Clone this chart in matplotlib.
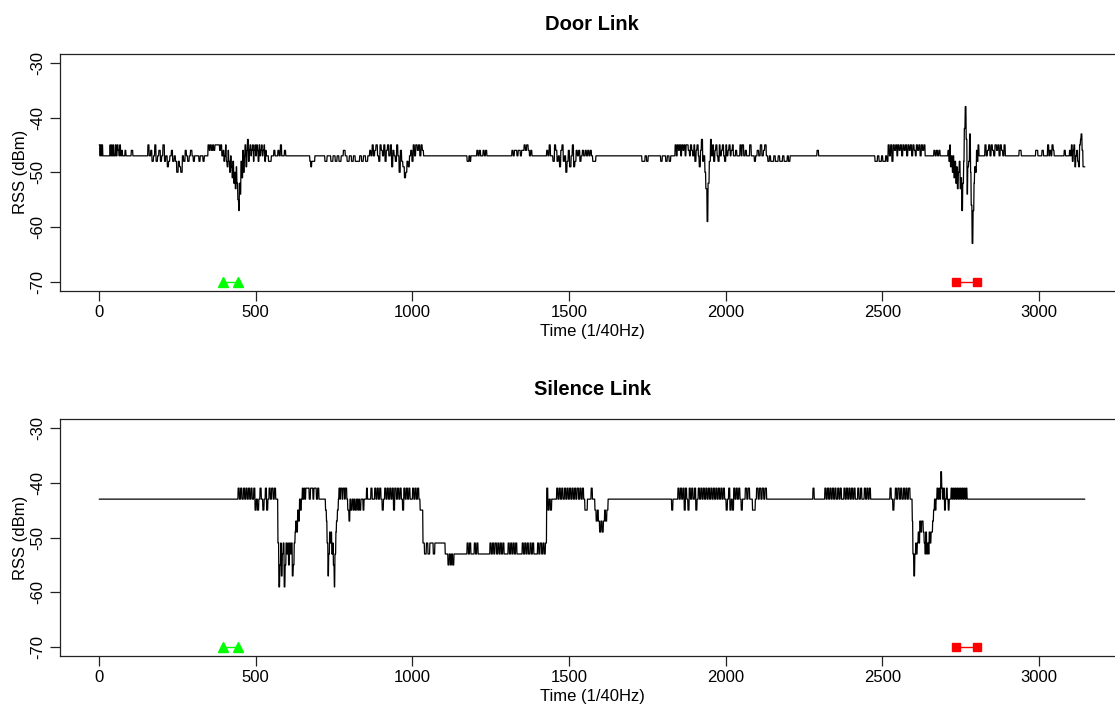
import numpy as np
import matplotlib.pyplot as plt

plt.rcParams["font.family"] = ["Liberation Sans", "DejaVu Sans"]
plt.rcParams["axes.unicode_minus"] = False

# RSS trace of each link, one sample per 1/40 s
n_samples = 3146

# quiet level of each link and the bursts around it: (first, last, levels held in turn)
door_base = -47
door_bursts = [
    (1, 14, [-45, -47, -45, -47, -45, -47]),
    (35, 47, [-45, -47, -45, -47, -45]),
    (52, 78, [-45, -47, -45, -46, -47, -45, -47, -46, -47]),
    (83, 90, [-46, -47]),
    (103, 108, [-46]),
    (156, 345, [-45, -47, -46, -48, -47, -45, -48, -47, -46, -48, -47, -45, -48, -47, -49,
                -48, -47, -46, -48, -47, -48, -50, -48, -49, -50, -47, -48, -46, -47, -48,
                -47, -46, -47, -48, -47, -47, -47, -48, -47, -47, -48, -47, -47]),
    (348, 392, [-45, -46, -45, -46, -45, -46, -45, -45, -45, -45, -46, -45]),
    (396, 537, [-46, -48, -47, -45, -48, -49, -46, -48, -50, -47, -49, -51, -48, -52, -50,
                -53, -49, -52, -55, -57, -52, -54, -48, -51, -46, -50, -47, -45, -49, -46,
                -44, -48, -46, -45, -47, -46, -45, -48, -46, -45, -47, -45, -46, -48, -45,
                -47, -46, -45, -47, -46, -45, -48, -46, -47]),
    (537, 600, [-47, -48, -48, -47, -47, -46, -47, -47, -46, -47, -45, -47, -47, -46, -47]),
    (673, 689, [-48, -49, -48, -48, -48]),
    (721, 864, [-48, -47, -47, -48, -47, -48, -47, -48, -47, -46, -47, -48, -47, -48, -47,
                -48, -48, -47, -48, -47, -48, -47]),
    (864, 1036, [-46, -47, -45, -47, -46, -45, -47, -48, -45, -46, -47, -45, -48, -46, -45,
                 -47, -45, -49, -46, -47, -48, -45, -47, -50, -46, -48, -49, -51, -50, -48,
                 -49, -47, -46, -48, -45, -47, -45, -46, -45, -47, -45, -46]),
    (1175, 1187, [-48, -48, -47, -48]),
    (1206, 1238, [-46, -47, -46, -47, -47, -46, -47, -46]),
    (1318, 1357, [-46, -47, -46, -46, -47, -46, -46, -47, -46, -46]),
    (1357, 1382, [-45, -46, -45, -46, -47, -46]),
    (1429, 1576, [-46, -47, -45, -47, -47, -48, -45, -46, -48, -47, -49, -46, -45, -48, -47,
                  -50, -48, -46, -49, -47, -45, -49, -48, -46, -47, -46, -48, -47, -46, -47,
                  -46, -47, -46, -47, -46, -47]),
    (1576, 1586, [-48, -48]),
    (1733, 1753, [-48, -48, -47, -48]),
    (1793, 1825, [-48, -47, -47, -48, -47, -48]),
    (1839, 2050, [-45, -47, -45, -46, -45, -47, -45, -46, -45, -47, -45, -45, -46, -47, -45,
                  -46, -47, -45, -48, -46, -45, -47, -49, -46, -44, -48, -47, -50, -53, -59,
                  -52, -48, -44, -47, -45, -48, -46, -45, -47, -48, -45, -47, -46, -45, -47,
                  -48, -45, -47, -46, -45, -47, -46, -45, -47, -47, -46, -47, -47, -47, -45]),
    (2053, 2135, [-45, -47, -46, -47, -47, -45, -47, -47, -48, -47, -46, -47, -45, -47, -46,
                  -45, -47]),
    (2135, 2206, [-48, -47, -48, -48, -47, -48, -48, -47, -48, -48, -47, -48, -48, -47, -48]),
    (2292, 2297, [-46]),
    (2477, 2519, [-48, -48, -47, -48, -48, -47, -48, -48, -47, -48]),
    (2519, 2637, [-45, -47, -45, -48, -45, -46, -45, -47, -45, -46, -45, -47, -45, -46, -45,
                  -47, -45, -46, -45, -47, -45, -46, -47, -45, -46, -45, -47, -45, -46, -45]),
    (2665, 2685, [-46, -47, -46, -47, -46]),
    (2710, 2812, [-46, -48, -45, -49, -47, -50, -47, -51, -48, -52, -49, -53, -50, -48, -53,
                  -51, -57, -52, -48, -42, -38, -44, -54, -49, -48, -43, -50, -56, -63, -57,
                  -52, -49, -50, -46, -48, -45, -47]),
    (2828, 2897, [-45, -47, -46, -45, -47, -45, -46, -47, -45, -46, -45, -47, -45, -46, -47,
                  -45, -47]),
    (2937, 2944, [-46]),
    (2990, 2997, [-46]),
    (3010, 3015, [-46]),
    (3028, 3053, [-45, -47, -46, -47, -45, -46, -47]),
    (3081, 3085, [-46]),
    (3098, 3147, [-46, -47, -45, -48, -46, -45, -49, -47, -46, -48, -49, -45, -44, -43, -46,
                  -49, -49]),
]

silence_base = -43
silence_bursts = [
    (444, 568, [-41, -43, -41, -43, -41, -43, -41, -43, -41, -43, -41, -43, -41, -45, -43,
                -45, -43, -41, -43, -45, -43, -41, -45, -43, -41, -43, -41, -43, -41, -43]),
    (568, 663, [-43, -51, -59, -55, -51, -57, -53, -51, -59, -55, -51, -53, -51, -55, -51,
                -53, -51, -57, -55, -51, -49, -47, -49, -45, -47, -43, -45, -43, -41, -43,
                -41, -43, -41]),
    (663, 706, [-41, -41, -43, -41, -41, -43, -41, -41, -43, -41, -43]),
    (723, 794, [-45, -47, -51, -57, -53, -49, -51, -49, -53, -51, -55, -59, -53, -49, -47,
                -45, -43, -41, -43, -41, -41, -43, -41, -41, -43, -41, -41, -43]),
    (794, 864, [-45, -47, -43, -45, -43, -45, -43, -45, -43, -45, -43, -45, -43, -43, -45,
                -43, -43, -41, -43, -43]),
    (864, 1025, [-43, -41, -43, -43, -41, -43, -41, -43, -41, -43, -45, -43, -41, -43, -41,
                 -43, -41, -43, -41, -45, -41, -43, -41, -43, -41, -43, -45, -41, -43, -41,
                 -43, -41, -43, -43, -41, -43, -41, -43, -41, -43]),
    (1025, 1034, [-45, -45]),
    (1034, 1110, [-51, -53, -51, -53, -51, -51, -53, -51, -51, -51, -51, -51, -51, -53]),
    (1110, 1137, [-53, -55, -53, -55, -53, -55, -53]),
    (1137, 1175, [-53]),
    (1175, 1210, [-51, -53, -51, -53, -53, -53, -51, -53, -51]),
    (1210, 1248, [-53]),
    (1248, 1429, [-51, -53, -51, -53, -51, -53, -51, -53, -51, -53, -51, -53, -53, -53, -51,
                  -53, -51, -53, -51, -53, -51, -53, -53, -53, -53, -51, -53, -51, -53, -51,
                  -53, -51, -53, -51, -53, -53, -53, -51, -53, -51, -53, -51, -53, -51]),
    (1429, 1461, [-41, -45, -43, -45, -43, -43, -43, -43]),
    (1461, 1551, [-41, -43, -41, -43, -41, -43, -41, -43, -41, -43, -41, -43, -41, -43, -41,
                  -43, -41, -43, -41, -43, -41, -43]),
    (1551, 1583, [-45, -45, -43, -43, -43, -41, -43, -43]),
    (1583, 1625, [-45, -47, -45, -47, -49, -47, -49, -47, -45, -47, -45]),
    (1828, 1832, [-45]),
    (1848, 2050, [-41, -43, -41, -43, -41, -45, -41, -43, -45, -41, -43, -41, -43, -41, -45,
                  -43, -41, -43, -41, -43, -41, -43, -41, -43, -41, -43, -41, -43, -41, -43,
                  -41, -43, -41, -43, -41, -43, -41, -43, -45, -43, -41, -45, -43, -45, -41,
                  -43, -41, -43, -41, -43]),
    (2050, 2135, [-45, -43, -43, -41, -43, -41, -43, -43, -45, -45, -43, -41, -43, -41, -43,
                  -41, -43, -41, -43]),
    (2279, 2283, [-41]),
    (2317, 2467, [-41, -43, -41, -43, -41, -43, -41, -43, -41, -43, -41, -43, -41, -43, -43,
                  -41, -43, -41, -43, -41, -43, -41, -43, -41, -43, -43, -41, -43, -41, -43,
                  -43, -41, -43, -41, -43, -41, -43]),
    (2525, 2593, [-41, -43, -45, -43, -41, -43, -41, -43, -41, -43, -41, -43, -41, -43, -41,
                  -43]),
    (2593, 2675, [-43, -47, -53, -57, -53, -51, -53, -51, -49, -51, -47, -49, -47, -47, -49,
                  -51, -53, -49, -53, -51, -53, -49, -51, -49, -49, -47, -45, -43, -45, -43]),
    (2675, 2726, [-41, -43, -41, -43, -38, -41, -43, -41, -45, -43, -41, -43, -45, -43, -43,
                  -41, -43]),
    (2726, 2774, [-41, -43, -41, -43, -41, -43, -41, -43, -41, -43, -41, -43, -41, -43, -41,
                  -43]),
]

# event markers drawn along the bottom of each panel
enter_times = [395, 445]
leave_times = [2735, 2802]
marker_level = -70

x_ticks = [0, 500, 1000, 1500, 2000, 2500, 3000]
y_ticks = [-70, -60, -50, -40, -30]


def build_series(base, bursts):
    """Expand the quiet level plus burst list into one value per sample."""
    rss = np.full(n_samples, base, dtype=float)
    for start, end, levels in bursts:
        edges = np.linspace(start, end, len(levels) + 1).round().astype(int)
        for lo, hi, level in zip(edges[:-1], edges[1:], levels):
            rss[lo - 1:hi - 1] = level
    return rss


def rss_panel(ax, rss, title):
    samples = np.arange(1, n_samples + 1)
    ax.plot(samples, rss, color="black", linewidth=0.9)
    ax.plot(enter_times, [marker_level] * 2, color="#00ff00", marker="^",
            markersize=7, linewidth=1)
    ax.plot(leave_times, [marker_level] * 2, color="#ff0000", marker="s",
            markersize=5.5, linewidth=1)

    pad = 0.04 * (n_samples - 1)
    ax.set_xlim(1 - pad, n_samples + pad)
    ax.set_ylim(-71.6, -28.4)
    ax.set_xticks(x_ticks)
    ax.set_yticks(y_ticks)
    ax.tick_params(length=7.2, width=0.9, labelsize=12, pad=3.2, color="#222222")
    ax.tick_params(axis="y", labelrotation=90)
    for label in ax.get_yticklabels():
        label.set_verticalalignment("center")
    for spine in ax.spines.values():
        spine.set_linewidth(0.9)
        spine.set_color("#222222")

    ax.set_title(title, fontsize=14.5, fontweight="bold", pad=17)
    ax.set_xlabel("Time (1/40Hz)", fontsize=12)
    ax.set_ylabel("RSS (dBm)", fontsize=12)
    ax.xaxis.set_label_coords(0.5, -0.14)
    ax.yaxis.set_label_coords(-0.0305, 0.5)


fig = plt.figure(figsize=(11.15, 7.07), dpi=100)
ax_door = fig.add_axes([0.0538, 0.5891, 0.9543, 0.3345])
ax_silence = fig.add_axes([0.0538, 0.0721, 0.9543, 0.3352])

rss_panel(ax_door, build_series(door_base, door_bursts), "Door Link")
rss_panel(ax_silence, build_series(silence_base, silence_bursts), "Silence Link")

fig.savefig("out.png", dpi=100)
